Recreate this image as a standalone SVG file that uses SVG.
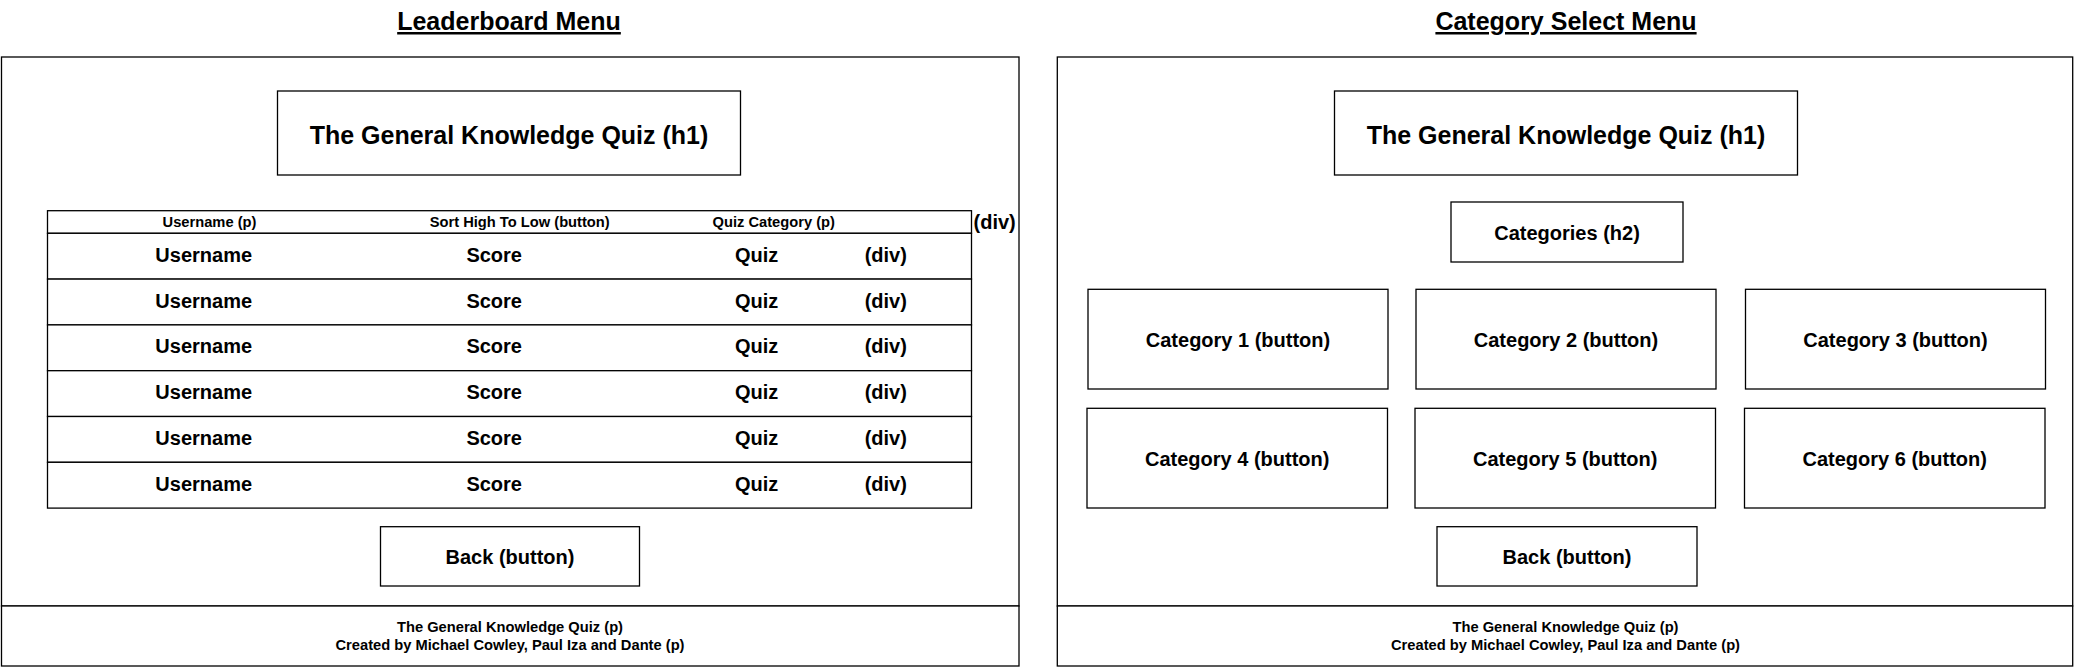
<svg xmlns="http://www.w3.org/2000/svg" width="2078" height="667" viewBox="0 0 2078 667">
<style>
rect{fill:#fff;stroke:#000;stroke-width:1.3}
text{font-family:"Liberation Sans",Arial,Helvetica,sans-serif;font-weight:bold;fill:#000;text-anchor:middle}
.t{font-size:25px;text-decoration:underline}
.h1{font-size:25px}
.b{font-size:20px}
.s{font-size:14.7px}
.l{text-anchor:start}
</style>
<rect x="0" y="0" width="2078" height="667" style="stroke:none"/>
<g id="connectors"></g>

<!-- Leaderboard Menu -->
<g id="leaderboard-title"><text class="t" x="509" y="30">Leaderboard Menu</text></g>
<g id="leaderboard-panel"><rect x="1.5" y="57" width="1017.5" height="549"/></g>
<g id="leaderboard-footer">
<rect x="1.5" y="606" width="1017.5" height="60"/>
<text class="s" x="510" y="632">The General Knowledge Quiz (p)</text>
<text class="s" x="510" y="650">Created by Michael Cowley, Paul Iza and Dante (p)</text>
</g>
<g id="leaderboard-h1"><rect x="277.5" y="91" width="463" height="84"/><text class="h1" x="509" y="143.5">The General Knowledge Quiz (h1)</text></g>
<g id="table-header">
<rect x="47.5" y="210.7" width="924" height="22.6"/>
<text class="s" x="209.5" y="227">Username (p)</text>
<text class="s" x="519.7" y="227">Sort High To Low (button)</text>
<text class="s" x="773.7" y="227">Quiz Category (p)</text>
</g>
<g id="table-div-label"><text class="b l" x="973.5" y="229">(div)</text></g>
<g id="row-1"><rect x="47.5" y="233.3" width="924" height="45.8"/><text class="b" x="203.7" y="261.8">Username</text><text class="b" x="494.2" y="261.8">Score</text><text class="b" x="756.7" y="261.8">Quiz</text><text class="b" x="885.8" y="261.8">(div)</text></g>
<g id="row-2"><rect x="47.5" y="279.1" width="924" height="45.8"/><text class="b" x="203.7" y="307.6">Username</text><text class="b" x="494.2" y="307.6">Score</text><text class="b" x="756.7" y="307.6">Quiz</text><text class="b" x="885.8" y="307.6">(div)</text></g>
<g id="row-3"><rect x="47.5" y="324.9" width="924" height="45.8"/><text class="b" x="203.7" y="353.4">Username</text><text class="b" x="494.2" y="353.4">Score</text><text class="b" x="756.7" y="353.4">Quiz</text><text class="b" x="885.8" y="353.4">(div)</text></g>
<g id="row-4"><rect x="47.5" y="370.7" width="924" height="45.8"/><text class="b" x="203.7" y="399.2">Username</text><text class="b" x="494.2" y="399.2">Score</text><text class="b" x="756.7" y="399.2">Quiz</text><text class="b" x="885.8" y="399.2">(div)</text></g>
<g id="row-5"><rect x="47.5" y="416.5" width="924" height="45.8"/><text class="b" x="203.7" y="445">Username</text><text class="b" x="494.2" y="445">Score</text><text class="b" x="756.7" y="445">Quiz</text><text class="b" x="885.8" y="445">(div)</text></g>
<g id="row-6"><rect x="47.5" y="462.3" width="924" height="45.8"/><text class="b" x="203.7" y="490.8">Username</text><text class="b" x="494.2" y="490.8">Score</text><text class="b" x="756.7" y="490.8">Quiz</text><text class="b" x="885.8" y="490.8">(div)</text></g>
<g id="leaderboard-back"><rect x="380.5" y="526.7" width="259" height="59.3"/><text class="b" x="510" y="564">Back (button)</text></g>

<!-- Category Select Menu -->
<g id="category-title"><text class="t" x="1566" y="30">Category Select Menu</text></g>
<g id="category-panel"><rect x="1057.3" y="57" width="1015.4" height="549"/></g>
<g id="category-footer">
<rect x="1057.3" y="606" width="1015.4" height="60"/>
<text class="s" x="1565.5" y="632">The General Knowledge Quiz (p)</text>
<text class="s" x="1565.5" y="650">Created by Michael Cowley, Paul Iza and Dante (p)</text>
</g>
<g id="category-h1"><rect x="1334.5" y="91" width="463" height="84"/><text class="h1" x="1566" y="143.5">The General Knowledge Quiz (h1)</text></g>
<g id="categories-h2"><rect x="1451" y="202" width="232" height="60"/><text class="b" x="1567" y="239.5">Categories (h2)</text></g>
<g id="category-1"><rect x="1088" y="289.3" width="300" height="99.7"/><text class="b" x="1238" y="346.5">Category 1 (button)</text></g>
<g id="category-2"><rect x="1416" y="289.3" width="300" height="99.7"/><text class="b" x="1566" y="346.5">Category 2 (button)</text></g>
<g id="category-3"><rect x="1745.5" y="289.3" width="300" height="99.7"/><text class="b" x="1895.5" y="346.5">Category 3 (button)</text></g>
<g id="category-4"><rect x="1087" y="408.3" width="300.5" height="99.7"/><text class="b" x="1237.2" y="465.5">Category 4 (button)</text></g>
<g id="category-5"><rect x="1415" y="408.3" width="300.5" height="99.7"/><text class="b" x="1565.2" y="465.5">Category 5 (button)</text></g>
<g id="category-6"><rect x="1744.5" y="408.3" width="300.5" height="99.7"/><text class="b" x="1894.7" y="465.5">Category 6 (button)</text></g>
<g id="category-back"><rect x="1437" y="526.7" width="260" height="59.3"/><text class="b" x="1567" y="564">Back (button)</text></g>
</svg>
